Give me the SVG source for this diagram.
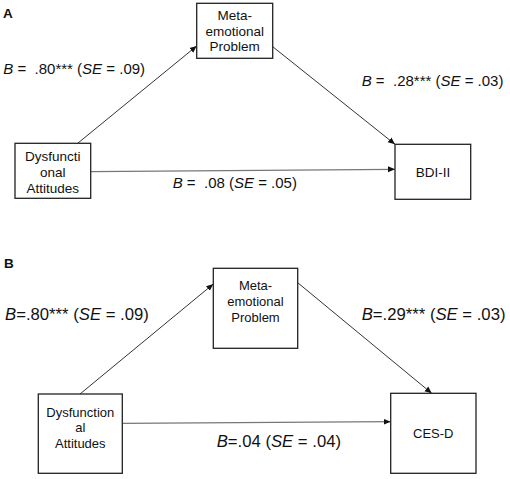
<svg xmlns="http://www.w3.org/2000/svg" width="510" height="479" viewBox="0 0 510 479">
<style>
  .box { fill: #ffffff; stroke: #222222; stroke-width: 1.3; }
  .nt { font-family: "Liberation Sans", Arial, sans-serif; font-size: 13.5px; fill: #111111; text-anchor: middle; }
  .ntb { font-family: "Liberation Sans", Arial, sans-serif; font-size: 13px; fill: #111111; text-anchor: middle; }
  .lab { font-family: "Liberation Sans", Arial, sans-serif; font-size: 15px; fill: #111111; white-space: pre; }
  .labb { font-family: "Liberation Sans", Arial, sans-serif; font-size: 16.7px; fill: #111111; white-space: pre; }
  .panel { font-family: "Liberation Sans", Arial, sans-serif; font-size: 13.5px; font-weight: bold; fill: #111111; }
  .edge { stroke: #333333; stroke-width: 1; fill: none; marker-end: url(#ah); }
  .edgeg { stroke: #777777; stroke-width: 1.2; fill: none; marker-end: url(#ah); }
</style>
<defs>
  <marker id="ah" markerUnits="userSpaceOnUse" markerWidth="8" markerHeight="8" viewBox="0 0 8 8" refX="7" refY="4" orient="auto">
    <path d="M0,1 L7,4 L0,7 Z" fill="#111111"/>
  </marker>
</defs>
<rect width="510" height="479" fill="#ffffff"/>

<text class="panel" x="3" y="18">A</text>
<text class="panel" x="4" y="268">B</text>

<g id="connectors">
  <line class="edge" x1="77.7" y1="143.3" x2="196.7" y2="46"/>
  <line class="edge" x1="272.7" y1="46.7" x2="395" y2="144.3"/>
  <line class="edgeg" x1="90.7" y1="171.7" x2="395" y2="169.3"/>
  <line class="edge" x1="80" y1="394" x2="213.3" y2="284"/>
  <line class="edge" x1="297.7" y1="282.7" x2="431.7" y2="393.3"/>
  <line class="edgeg" x1="122.3" y1="423.3" x2="390.7" y2="421.7"/>
</g>

<g id="labels">
  <text class="lab" x="3.3" y="73.5"><tspan font-style="italic">B</tspan> =  .80*** (<tspan font-style="italic">SE</tspan> = .09)</text>
  <text class="lab" x="361.7" y="86"><tspan font-style="italic">B</tspan> =  .28*** (<tspan font-style="italic">SE</tspan> = .03)</text>
  <text class="lab" x="172.7" y="188.3"><tspan font-style="italic">B</tspan> =  .08 (<tspan font-style="italic">SE</tspan> = .05)</text>
  <text class="labb" x="5" y="319.5"><tspan font-style="italic">B</tspan>=.80*** (<tspan font-style="italic">SE</tspan> = .09)</text>
  <text class="labb" x="361.7" y="319.5"><tspan font-style="italic">B</tspan>=.29*** (<tspan font-style="italic">SE</tspan> = .03)</text>
  <text class="labb" x="216.7" y="447"><tspan font-style="italic">B</tspan>=.04 (<tspan font-style="italic">SE</tspan> = .04)</text>
</g>

<g id="nodeA-meta">
  <rect class="box" x="196.7" y="3.3" width="76" height="55"/>
  <text class="nt" x="234.7" y="20">Meta-</text>
  <text class="nt" x="234.7" y="35.5">emotional</text>
  <text class="nt" x="234.7" y="51">Problem</text>
</g>
<g id="nodeA-dys">
  <rect class="box" x="15" y="143.3" width="75.7" height="55"/>
  <text class="nt" x="52.8" y="160.7">Dysfuncti</text>
  <text class="nt" x="52.8" y="176.7">onal</text>
  <text class="nt" x="52.8" y="192.7">Attitudes</text>
</g>
<g id="nodeA-bdi">
  <rect class="box" x="395" y="144.3" width="75.7" height="55"/>
  <text class="nt" x="433" y="176.7">BDI-II</text>
</g>

<g id="nodeB-meta">
  <rect class="box" x="213.3" y="268.3" width="84.4" height="80"/>
  <text class="ntb" x="255.5" y="290">Meta-</text>
  <text class="ntb" x="255.5" y="306">emotional</text>
  <text class="ntb" x="255.5" y="321.7">Problem</text>
</g>
<g id="nodeB-dys">
  <rect class="box" x="38.3" y="394" width="84" height="79.3"/>
  <text class="ntb" x="80.3" y="416.7">Dysfunction</text>
  <text class="ntb" x="80.3" y="432.3">al</text>
  <text class="ntb" x="80.3" y="448.3">Attitudes</text>
</g>
<g id="nodeB-cesd">
  <rect class="box" x="390.7" y="393.3" width="85.3" height="80"/>
  <text class="ntb" x="433.3" y="437.7">CES-D</text>
</g>
</svg>
